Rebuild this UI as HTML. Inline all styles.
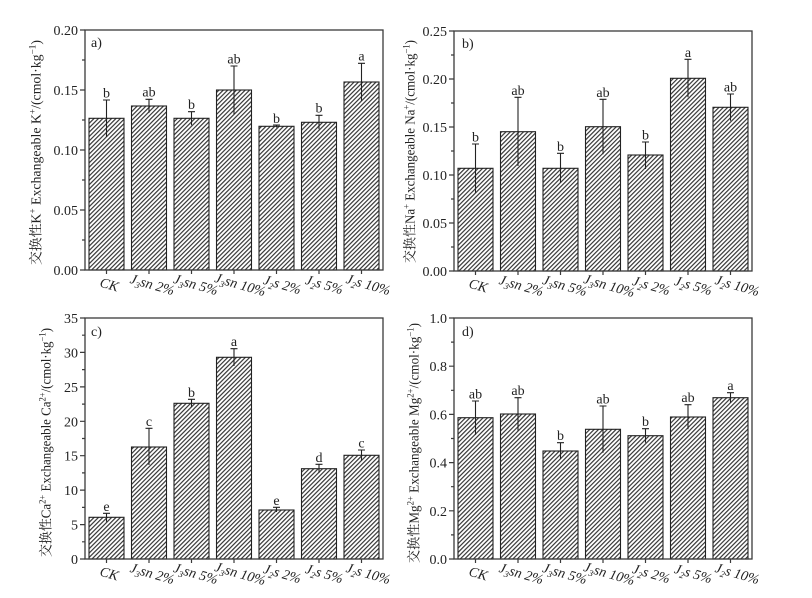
<!DOCTYPE html>
<html><head><meta charset="utf-8"><style>
html,body{margin:0;padding:0;background:#fff;}
svg{display:block;}
text{font-family:"Liberation Serif","Noto Serif CJK SC",serif;fill:#222;}
.t{font-size:14px;}
.xl{font-size:14px;font-style:italic;}
.yl{font-size:13.5px;}
</style></head><body>
<svg width="812" height="598" viewBox="0 0 812 598" xmlns="http://www.w3.org/2000/svg">
<defs>
<pattern id="h" patternUnits="userSpaceOnUse" width="3.1" height="10" patternTransform="rotate(45)">
<line x1="1.5" y1="0" x2="1.5" y2="10" stroke="#2e2e2e" stroke-width="1.15"/>
</pattern>
</defs>
<rect width="812" height="598" fill="#fff"/>

<!-- ================= Panel a ================= -->
<g stroke="#222" stroke-width="1.1" fill="url(#h)">
<rect x="89" y="118.3" width="35" height="151.7"/>
<rect x="131.5" y="106" width="35" height="164"/>
<rect x="174" y="118.3" width="35" height="151.7"/>
<rect x="216.5" y="90" width="35" height="180"/>
<rect x="259" y="126.3" width="35" height="143.7"/>
<rect x="301.5" y="122.3" width="35" height="147.7"/>
<rect x="344" y="82" width="35" height="188"/>
</g>
<g stroke="#222" stroke-width="1.1" fill="none">
<path d="M106.5 100V137M103 100H110"/>
<path d="M149 99.3V112.7M145.5 99.3H152.5"/>
<path d="M191.5 111.7V125.3M188 111.7H195"/>
<path d="M234 66V114M230.5 66H237.5"/>
<path d="M276.5 125V127.5M273 125H280"/>
<path d="M319 115.3V129.3M315.5 115.3H322.5"/>
<path d="M361.5 63.3V100.7M358 63.3H365"/>
</g>
<g class="t" text-anchor="middle">
<text x="106.5" y="97.5">b</text>
<text x="149" y="96.5">ab</text>
<text x="191.5" y="109">b</text>
<text x="234" y="63.5">ab</text>
<text x="276.5" y="123">b</text>
<text x="319" y="112.5">b</text>
<text x="361.5" y="60.5">a</text>
</g>
<rect x="85" y="30" width="298" height="240" fill="none" stroke="#3a3a3a" stroke-width="1.3"/>
<g stroke="#3a3a3a" stroke-width="1.2">
<path d="M85 270H80M85 210H80M85 150H80M85 90H80M85 30H80"/>
<path d="M85 240H82M85 180H82M85 120H82M85 60H82"/>
<path d="M106.5 270v4M149 270v4M191.5 270v4M234 270v4M276.5 270v4M319 270v4M361.5 270v4"/>
</g>
<g class="t" text-anchor="end">
<text x="78" y="275">0.00</text>
<text x="78" y="215">0.05</text>
<text x="78" y="155">0.10</text>
<text x="78" y="95">0.15</text>
<text x="78" y="35">0.20</text>
</g>
<text class="t" x="91" y="47">a)</text>
<text class="yl" transform="translate(40.5,152.5) rotate(-90)" text-anchor="middle" textLength="225" lengthAdjust="spacingAndGlyphs">交换性K<tspan font-size="9" dy="-5">+</tspan><tspan dy="5"> Exchangeable K</tspan><tspan font-size="9" dy="-5">+</tspan><tspan dy="5">/(cmol·kg</tspan><tspan font-size="9" dy="-5">−1</tspan><tspan dy="5">)</tspan></text>
<g class="xl" text-anchor="middle">
<text transform="translate(108,289) rotate(16)">CK</text>
<text transform="translate(151,289) rotate(16)">J<tspan font-size="9" dy="3">3</tspan><tspan dy="-3">sn 2%</tspan></text>
<text transform="translate(194.5,289) rotate(16)">J<tspan font-size="9" dy="3">3</tspan><tspan dy="-3">sn 5%</tspan></text>
<text transform="translate(239,289) rotate(16)">J<tspan font-size="9" dy="3">3</tspan><tspan dy="-3">sn 10%</tspan></text>
<text transform="translate(281,289) rotate(16)">J<tspan font-size="9" dy="3">2</tspan><tspan dy="-3">s 2%</tspan></text>
<text transform="translate(323,289) rotate(16)">J<tspan font-size="9" dy="3">2</tspan><tspan dy="-3">s 5%</tspan></text>
<text transform="translate(367,289) rotate(16)">J<tspan font-size="9" dy="3">2</tspan><tspan dy="-3">s 10%</tspan></text>
</g>

<!-- ================= Panel b ================= -->
<g stroke="#222" stroke-width="1.1" fill="url(#h)">
<rect x="458" y="168.3" width="35" height="102.7"/>
<rect x="500.5" y="131.7" width="35" height="139.3"/>
<rect x="543" y="168.3" width="35" height="102.7"/>
<rect x="585.5" y="126.7" width="35" height="144.3"/>
<rect x="628" y="155" width="35" height="116"/>
<rect x="670.5" y="78.3" width="35" height="192.7"/>
<rect x="713" y="107.3" width="35" height="163.7"/>
</g>
<g stroke="#222" stroke-width="1.1" fill="none">
<path d="M475.5 144V192.7M472 144H479"/>
<path d="M518 97.3V166M514.5 97.3H521.5"/>
<path d="M560.5 153.3V182.7M557 153.3H564"/>
<path d="M603 99.3V154.3M599.5 99.3H606.5"/>
<path d="M645.5 142V169M642 142H649"/>
<path d="M688 59.3V97.3M684.5 59.3H691.5"/>
<path d="M730.5 94V120.7M727 94H734"/>
</g>
<g class="t" text-anchor="middle">
<text x="475.5" y="141.5">b</text>
<text x="518" y="95">ab</text>
<text x="560.5" y="151">b</text>
<text x="603" y="97">ab</text>
<text x="645.5" y="139.5">b</text>
<text x="688" y="57">a</text>
<text x="730.5" y="91.5">ab</text>
</g>
<rect x="454" y="31" width="298" height="240" fill="none" stroke="#3a3a3a" stroke-width="1.3"/>
<g stroke="#3a3a3a" stroke-width="1.2">
<path d="M454 271H449M454 223H449M454 175H449M454 127H449M454 79H449M454 31H449"/>
<path d="M454 247H451M454 199H451M454 151H451M454 103H451M454 55H451"/>
<path d="M475.5 271v4M518 271v4M560.5 271v4M603 271v4M645.5 271v4M688 271v4M730.5 271v4"/>
</g>
<g class="t" text-anchor="end">
<text x="447" y="276">0.00</text>
<text x="447" y="228">0.05</text>
<text x="447" y="180">0.10</text>
<text x="447" y="132">0.15</text>
<text x="447" y="84">0.20</text>
<text x="447" y="36">0.25</text>
</g>
<text class="t" x="462" y="48">b)</text>
<text class="yl" transform="translate(414.5,151.5) rotate(-90)" text-anchor="middle" textLength="223" lengthAdjust="spacingAndGlyphs">交换性Na<tspan font-size="9" dy="-5">+</tspan><tspan dy="5"> Exchangeable Na</tspan><tspan font-size="9" dy="-5">+</tspan><tspan dy="5">/(cmol·kg</tspan><tspan font-size="9" dy="-5">−1</tspan><tspan dy="5">)</tspan></text>
<g class="xl" text-anchor="middle">
<text transform="translate(477,290) rotate(16)">CK</text>
<text transform="translate(520,290) rotate(16)">J<tspan font-size="9" dy="3">3</tspan><tspan dy="-3">sn 2%</tspan></text>
<text transform="translate(563.5,290) rotate(16)">J<tspan font-size="9" dy="3">3</tspan><tspan dy="-3">sn 5%</tspan></text>
<text transform="translate(608,290) rotate(16)">J<tspan font-size="9" dy="3">3</tspan><tspan dy="-3">sn 10%</tspan></text>
<text transform="translate(650,290) rotate(16)">J<tspan font-size="9" dy="3">2</tspan><tspan dy="-3">s 2%</tspan></text>
<text transform="translate(692,290) rotate(16)">J<tspan font-size="9" dy="3">2</tspan><tspan dy="-3">s 5%</tspan></text>
<text transform="translate(736,290) rotate(16)">J<tspan font-size="9" dy="3">2</tspan><tspan dy="-3">s 10%</tspan></text>
</g>

<!-- ================= Panel c ================= -->
<g stroke="#222" stroke-width="1.1" fill="url(#h)">
<rect x="89" y="517.3" width="35" height="41.7"/>
<rect x="131.5" y="447" width="35" height="112"/>
<rect x="174" y="403.3" width="35" height="155.7"/>
<rect x="216.5" y="357.3" width="35" height="201.7"/>
<rect x="259" y="510" width="35" height="49"/>
<rect x="301.5" y="468.7" width="35" height="90.3"/>
<rect x="344" y="455.3" width="35" height="103.7"/>
</g>
<g stroke="#222" stroke-width="1.1" fill="none">
<path d="M106.5 513.3V521.7M103 513.3H110"/>
<path d="M149 428.3V465M145.5 428.3H152.5"/>
<path d="M191.5 399.3V407.3M188 399.3H195"/>
<path d="M234 348.7V366M230.5 348.7H237.5"/>
<path d="M276.5 507.3V512M273 507.3H280"/>
<path d="M319 464.3V472.7M315.5 464.3H322.5"/>
<path d="M361.5 450V460.7M358 450H365"/>
</g>
<g class="t" text-anchor="middle">
<text x="106.5" y="511">e</text>
<text x="149" y="426">c</text>
<text x="191.5" y="397">b</text>
<text x="234" y="346">a</text>
<text x="276.5" y="505">e</text>
<text x="319" y="462">d</text>
<text x="361.5" y="447.5">c</text>
</g>
<rect x="85" y="318" width="298" height="241" fill="none" stroke="#3a3a3a" stroke-width="1.3"/>
<g stroke="#3a3a3a" stroke-width="1.2">
<path d="M85 559H80M85 524.6H80M85 490.1H80M85 455.7H80M85 421.3H80M85 386.9H80M85 352.4H80M85 318H80"/>
<path d="M85 541.8H82M85 507.4H82M85 472.9H82M85 438.5H82M85 404.1H82M85 369.6H82M85 335.2H82"/>
<path d="M106.5 559v4M149 559v4M191.5 559v4M234 559v4M276.5 559v4M319 559v4M361.5 559v4"/>
</g>
<g class="t" text-anchor="end">
<text x="78" y="564">0</text>
<text x="78" y="529.6">5</text>
<text x="78" y="495.1">10</text>
<text x="78" y="460.7">15</text>
<text x="78" y="426.3">20</text>
<text x="78" y="391.9">25</text>
<text x="78" y="357.4">30</text>
<text x="78" y="323">35</text>
</g>
<text class="t" x="91" y="336">c)</text>
<text class="yl" transform="translate(50.5,442.5) rotate(-90)" text-anchor="middle" textLength="229" lengthAdjust="spacingAndGlyphs">交换性Ca<tspan font-size="9" dy="-5">2+</tspan><tspan dy="5"> Exchangeable Ca</tspan><tspan font-size="9" dy="-5">2+</tspan><tspan dy="5">/(cmol·kg</tspan><tspan font-size="9" dy="-5">−1</tspan><tspan dy="5">)</tspan></text>
<g class="xl" text-anchor="middle">
<text transform="translate(108,578) rotate(16)">CK</text>
<text transform="translate(151,578) rotate(16)">J<tspan font-size="9" dy="3">3</tspan><tspan dy="-3">sn 2%</tspan></text>
<text transform="translate(194.5,578) rotate(16)">J<tspan font-size="9" dy="3">3</tspan><tspan dy="-3">sn 5%</tspan></text>
<text transform="translate(239,578) rotate(16)">J<tspan font-size="9" dy="3">3</tspan><tspan dy="-3">sn 10%</tspan></text>
<text transform="translate(281,578) rotate(16)">J<tspan font-size="9" dy="3">2</tspan><tspan dy="-3">s 2%</tspan></text>
<text transform="translate(323,578) rotate(16)">J<tspan font-size="9" dy="3">2</tspan><tspan dy="-3">s 5%</tspan></text>
<text transform="translate(367,578) rotate(16)">J<tspan font-size="9" dy="3">2</tspan><tspan dy="-3">s 10%</tspan></text>
</g>

<!-- ================= Panel d ================= -->
<g stroke="#222" stroke-width="1.1" fill="url(#h)">
<rect x="458" y="417.7" width="35" height="141.3"/>
<rect x="500.5" y="414" width="35" height="145"/>
<rect x="543" y="451" width="35" height="108"/>
<rect x="585.5" y="429.3" width="35" height="129.7"/>
<rect x="628" y="435.7" width="35" height="123.3"/>
<rect x="670.5" y="417" width="35" height="142"/>
<rect x="713" y="397.7" width="35" height="161.3"/>
</g>
<g stroke="#222" stroke-width="1.1" fill="none">
<path d="M475.5 401V434.7M472 401H479"/>
<path d="M518 397.7V430.7M514.5 397.7H521.5"/>
<path d="M560.5 442.7V459.3M557 442.7H564"/>
<path d="M603 406V452.7M599.5 406H606.5"/>
<path d="M645.5 428.7V442.7M642 428.7H649"/>
<path d="M688 404.7V429.3M684.5 404.7H691.5"/>
<path d="M730.5 392.7V402.7M727 392.7H734"/>
</g>
<g class="t" text-anchor="middle">
<text x="475.5" y="398.5">ab</text>
<text x="518" y="395">ab</text>
<text x="560.5" y="440">b</text>
<text x="603" y="403.5">ab</text>
<text x="645.5" y="426">b</text>
<text x="688" y="402">ab</text>
<text x="730.5" y="390">a</text>
</g>
<rect x="454" y="318" width="298" height="241" fill="none" stroke="#3a3a3a" stroke-width="1.3"/>
<g stroke="#3a3a3a" stroke-width="1.2">
<path d="M454 559H449M454 510.8H449M454 462.6H449M454 414.4H449M454 366.2H449M454 318H449"/>
<path d="M454 534.9H451M454 486.7H451M454 438.5H451M454 390.3H451M454 342.1H451"/>
<path d="M475.5 559v4M518 559v4M560.5 559v4M603 559v4M645.5 559v4M688 559v4M730.5 559v4"/>
</g>
<g class="t" text-anchor="end">
<text x="447" y="564">0.0</text>
<text x="447" y="515.8">0.2</text>
<text x="447" y="467.6">0.4</text>
<text x="447" y="419.4">0.6</text>
<text x="447" y="371.2">0.8</text>
<text x="447" y="323">1.0</text>
</g>
<text class="t" x="462" y="336">d)</text>
<text class="yl" transform="translate(418.5,443) rotate(-90)" text-anchor="middle" textLength="240" lengthAdjust="spacingAndGlyphs">交换性Mg<tspan font-size="9" dy="-5">2+</tspan><tspan dy="5"> Exchangeable Mg</tspan><tspan font-size="9" dy="-5">2+</tspan><tspan dy="5">/(cmol·kg</tspan><tspan font-size="9" dy="-5">−1</tspan><tspan dy="5">)</tspan></text>
<g class="xl" text-anchor="middle">
<text transform="translate(477,578) rotate(16)">CK</text>
<text transform="translate(520,578) rotate(16)">J<tspan font-size="9" dy="3">3</tspan><tspan dy="-3">sn 2%</tspan></text>
<text transform="translate(563.5,578) rotate(16)">J<tspan font-size="9" dy="3">3</tspan><tspan dy="-3">sn 5%</tspan></text>
<text transform="translate(608,578) rotate(16)">J<tspan font-size="9" dy="3">3</tspan><tspan dy="-3">sn 10%</tspan></text>
<text transform="translate(650,578) rotate(16)">J<tspan font-size="9" dy="3">2</tspan><tspan dy="-3">s 2%</tspan></text>
<text transform="translate(692,578) rotate(16)">J<tspan font-size="9" dy="3">2</tspan><tspan dy="-3">s 5%</tspan></text>
<text transform="translate(736,578) rotate(16)">J<tspan font-size="9" dy="3">2</tspan><tspan dy="-3">s 10%</tspan></text>
</g>
</svg>
</body></html>
